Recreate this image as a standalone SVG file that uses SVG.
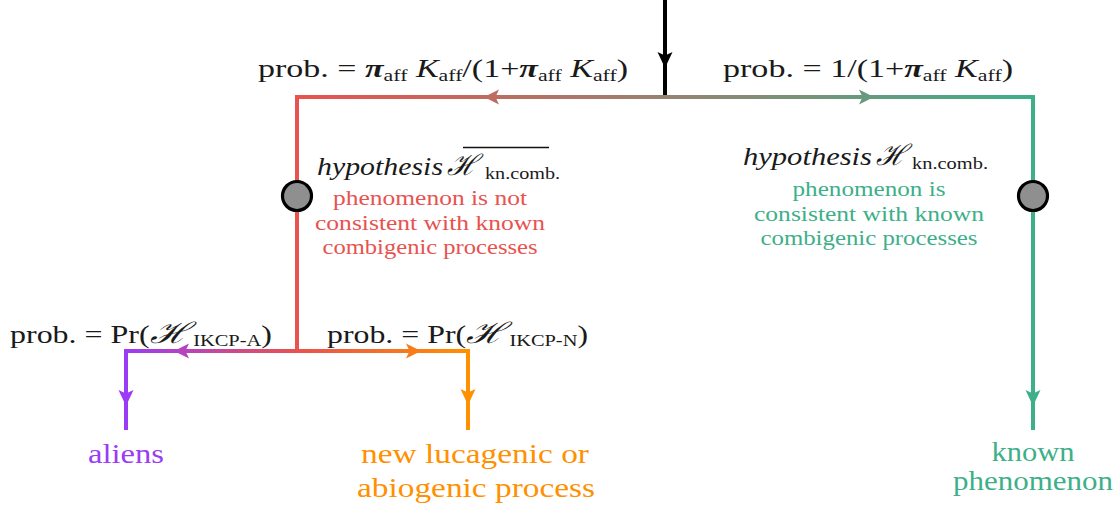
<svg xmlns="http://www.w3.org/2000/svg" width="1120" height="505" viewBox="0 0 1120 505">
<style>
.t{font-family:"Liberation Serif","Times New Roman",serif;fill:#1a1a1a}
.lbl{font-size:25px}
.sub{font-size:16px}
.it{font-style:italic}
.pi{font-style:italic;font-weight:bold}
.scr{font-style:italic;font-size:29px}
.desc{font-size:20px;text-anchor:middle}
.end{font-size:27px;text-anchor:middle}
.ln{fill:none;stroke-width:4}
.node{fill:#8f8f8f;stroke:#000;stroke-width:3.2}
.red{fill:#e8524f}
.grn{fill:#3daf89}
.pur{fill:#9a3cf5}
.org{fill:#ff9000}
</style>
<defs>
<linearGradient id="gTop" gradientUnits="userSpaceOnUse" x1="297" y1="0" x2="1033" y2="0">
<stop offset="0" stop-color="#e8524f"/>
<stop offset="0.5" stop-color="#988270"/>
<stop offset="1" stop-color="#3daf89"/>
</linearGradient>
<linearGradient id="gBot" gradientUnits="userSpaceOnUse" x1="125" y1="0" x2="468" y2="0">
<stop offset="0" stop-color="#9a3cf5"/>
<stop offset="0.5" stop-color="#e8524f"/>
<stop offset="1" stop-color="#ff9000"/>
</linearGradient>
</defs>
<g id="connectors">
<line class="ln" x1="665" y1="0" x2="665" y2="97" stroke="#000"/>
<path d="M657.5,52 L665,55.5 L672.5,52 L665,68 Z" fill="#000"/>
<line class="ln" x1="295" y1="97" x2="1035" y2="97" stroke="url(#gTop)"/>
<path d="M484,97 L499,89.5 L495.5,97 L499,104.5 Z" fill="url(#gTop)"/>
<path d="M874,97 L859,89.5 L862.5,97 L859,104.5 Z" fill="url(#gTop)"/>
<line class="ln" x1="297" y1="95" x2="297" y2="351" stroke="#e8524f"/>
<line class="ln" x1="1033" y1="95" x2="1033" y2="430" stroke="#3daf89"/>
<path d="M1025.5,390 L1033,393.5 L1040.5,390 L1033,406 Z" fill="#3daf89"/>
<line class="ln" x1="124" y1="351" x2="470" y2="351" stroke="url(#gBot)"/>
<path d="M174,351 L189,343.5 L185.5,351 L189,358.5 Z" fill="url(#gBot)"/>
<path d="M421,351 L406,343.5 L409.5,351 L406,358.5 Z" fill="url(#gBot)"/>
<line class="ln" x1="126" y1="349" x2="126" y2="430" stroke="#9a3cf5"/>
<path d="M118.5,390 L126,393.5 L133.5,390 L126,406 Z" fill="#9a3cf5"/>
<line class="ln" x1="468" y1="349" x2="468" y2="430" stroke="#ff9000"/>
<path d="M460.5,389 L468,392.5 L475.5,389 L468,405 Z" fill="#ff9000"/>
</g>
<g id="label-top-left">
<text class="t lbl" x="258" y="77" textLength="370" lengthAdjust="spacingAndGlyphs">prob. = <tspan class="pi">π</tspan><tspan class="sub" dy="4">aff</tspan><tspan dy="-4" class="it"> K</tspan><tspan class="sub" dy="4">aff</tspan><tspan dy="-4">/(1+</tspan><tspan class="pi">π</tspan><tspan class="sub" dy="4">aff</tspan><tspan dy="-4" class="it"> K</tspan><tspan class="sub" dy="4">aff</tspan><tspan dy="-4">)</tspan></text>
</g>
<g id="label-top-right">
<text class="t lbl" x="723" y="77" textLength="290" lengthAdjust="spacingAndGlyphs">prob. = 1/(1+<tspan class="pi">π</tspan><tspan class="sub" dy="4">aff</tspan><tspan dy="-4" class="it"> K</tspan><tspan class="sub" dy="4">aff</tspan><tspan dy="-4">)</tspan></text>
</g>
<g id="node-not-known">
<circle class="node" cx="297" cy="196" r="14.5"/>
<text class="t lbl it" x="317" y="175" textLength="126" lengthAdjust="spacingAndGlyphs">hypothesis</text>
<text class="t scr" x="447" y="175">ℋ</text>
<text class="t sub" x="485" y="179" textLength="75" lengthAdjust="spacingAndGlyphs">kn.comb.</text>
<line x1="463" y1="147.5" x2="549" y2="147.5" stroke="#111" stroke-width="1.6"/>
<text class="t desc red" x="430" y="205" textLength="194" lengthAdjust="spacingAndGlyphs">phenomenon is not</text>
<text class="t desc red" x="430" y="230" textLength="230" lengthAdjust="spacingAndGlyphs">consistent with known</text>
<text class="t desc red" x="430" y="254" textLength="215" lengthAdjust="spacingAndGlyphs">combigenic processes</text>
</g>
<g id="node-known">
<circle class="node" cx="1033" cy="196" r="14.5"/>
<text class="t lbl it" x="743" y="165" textLength="129" lengthAdjust="spacingAndGlyphs">hypothesis</text>
<text class="t scr" x="876" y="165">ℋ</text>
<text class="t sub" x="912" y="169" textLength="76" lengthAdjust="spacingAndGlyphs">kn.comb.</text>
<text class="t desc grn" x="869" y="196" textLength="153" lengthAdjust="spacingAndGlyphs">phenomenon is</text>
<text class="t desc grn" x="869" y="221" textLength="230" lengthAdjust="spacingAndGlyphs">consistent with known</text>
<text class="t desc grn" x="869" y="245" textLength="217" lengthAdjust="spacingAndGlyphs">combigenic processes</text>
</g>
<g id="label-bottom-left">
<text class="t lbl" x="10" y="343" textLength="262" lengthAdjust="spacingAndGlyphs">prob. = Pr(<tspan class="scr">ℋ</tspan><tspan class="sub" dx="3" dy="3">IKCP-A</tspan><tspan dy="-3">)</tspan></text>
</g>
<g id="label-bottom-right">
<text class="t lbl" x="327" y="343" textLength="261" lengthAdjust="spacingAndGlyphs">prob. = Pr(<tspan class="scr">ℋ</tspan><tspan class="sub" dx="3" dy="3">IKCP-N</tspan><tspan dy="-3">)</tspan></text>
</g>
<g id="node-aliens">
<text class="t end pur" x="126" y="463" textLength="76" lengthAdjust="spacingAndGlyphs">aliens</text>
</g>
<g id="node-new-process">
<text class="t end org" x="475" y="463" textLength="228" lengthAdjust="spacingAndGlyphs">new lucagenic or</text>
<text class="t end org" x="476" y="497" textLength="238" lengthAdjust="spacingAndGlyphs">abiogenic process</text>
</g>
<g id="node-known-phenomenon">
<text class="t end grn" x="1033" y="461" textLength="83" lengthAdjust="spacingAndGlyphs">known</text>
<text class="t end grn" x="1033" y="490" textLength="160" lengthAdjust="spacingAndGlyphs">phenomenon</text>
</g>
</svg>
